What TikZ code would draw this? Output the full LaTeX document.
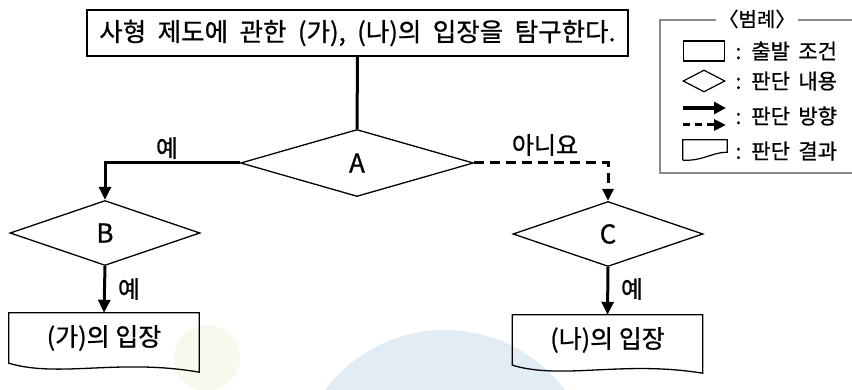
\documentclass[tikz,border=0pt]{standalone}
\usepackage{fontspec}
\setmainfont{Noto Sans CJK KR}[FakeBold=0.8]
\usepackage{xcolor}
\usepackage{tikz}
\usetikzlibrary{shapes.geometric, arrows.meta}
\definecolor{legendgray}{RGB}{140,140,140}
\definecolor{markblue}{RGB}{226,236,244}
\definecolor{markgreen}{RGB}{248,249,236}

\begin{document}
\begin{tikzpicture}[x=1pt, y=-1pt,
  startbox/.style={draw, line width=1.6pt, minimum width=541pt, minimum height=46pt, inner sep=0pt, font={\fontsize{25.5}{28}\selectfont\spaceskip=0.45em\relax}},
  decision/.style={diamond, draw, line width=1.3pt, inner sep=0pt, minimum width=190pt, minimum height=65pt, font=\fontsize{26}{30}\selectfont},
  result/.style={minimum width=190pt, minimum height=50pt, inner sep=0pt, font=\fontsize{25}{28}\selectfont},
  doc/.style={line width=1.3pt},
  flow/.style={line width=3pt, -{Triangle[length=13pt, width=12pt]}},
  noflow/.style={line width=3pt, dash pattern=on 10pt off 6pt, -{Triangle[length=12pt, width=11pt]}},
  answer/.style={font=\fontsize{24}{28}\selectfont},
  legendtext/.style={anchor=west, font={\fontsize{21}{24}\selectfont\spaceskip=0.4em\relax}}]
\useasboundingbox (0,0) rectangle (852,390);

% faint marks behind the chart
\fill[markblue] (445,480) circle (150);
\fill[markgreen] (207,358) circle (33);

% start and decisions
\node[startbox] (start) at (357.5,33) {사형 제도에 관한 (가), (나)의 입장을 탐구한다.};
\node[decision, minimum width=233pt, minimum height=67pt] (a) at (357,163) {A};
\node[decision] (b) at (105,233) {B};
\node[decision] (c) at (608,234) {C};

% results
\node[result] (ra) at (104,338) {(가)의 입장};
\node[result] (rb) at (607.5,340) {(나)의 입장};
\draw[doc] (ra.south west) -- (ra.north west) -- (ra.north east) -- ([yshift=-9pt]ra.south east)
  .. controls ([xshift=-80pt, yshift=5pt]ra.south east) and ([xshift=50pt, yshift=-15pt]ra.south west) .. cycle;
\draw[doc] (rb.south west) -- (rb.north west) -- (rb.north east) -- ([yshift=-8pt]rb.south east)
  .. controls ([xshift=-80pt, yshift=5pt]rb.south east) and ([xshift=50pt, yshift=-15pt]rb.south west) .. cycle;

% connectors
\draw[line width=3pt] (start.south) -- (a.north);
\draw[flow] (a.west) -| (b.north);
\draw[noflow] (a.east) -| (c.north);
\draw[flow] (b.south) -- (ra.north);
\draw[flow] (c.south) -- (rb.north);

% answers
\node[answer] (yesa) at (167,148) {예};
\node[answer] (noa) at (545,145) {아니요};
\node[answer] (yesb) at (129,289) {예};
\node[answer] (yesc) at (632,289) {예};

% legend
\draw[legendgray, line width=1.2pt] (852,20) -- (660,20) -- (660,173) -- (852,173);
\node[fill=white, inner sep=3pt, font=\fontsize{20}{24}\selectfont] (legend) at (757,19) {〈범례〉};
\node[draw, line width=1.2pt, minimum width=41pt, minimum height=20pt, inner sep=0pt] (keybox) at (704,51) {};
\node[draw, diamond, line width=1.2pt, minimum width=42pt, minimum height=22pt, inner sep=0pt] (keydia) at (704,81) {};
\coordinate (keyaw) at (683,108);
\coordinate (keyae) at (726,108);
\coordinate (keybw) at (683,125);
\coordinate (keybe) at (726,125);
\draw[line width=3.5pt, -{Triangle[length=12pt, width=12pt]}] (keyaw) -- (keyae);
\draw[line width=3pt, dash pattern=on 7pt off 5pt, -{Triangle[length=12pt, width=11pt]}] (keybw) -- (keybe);
\node[minimum width=44pt, minimum height=12pt, inner sep=0pt] (keydoc) at (705,146) {};
\draw[line width=1.2pt] ([yshift=-8pt]keydoc.south west) -- (keydoc.north west) -- (keydoc.north east) -- (keydoc.south east)
  .. controls ([xshift=-15pt]keydoc.south east) and ([xshift=20pt, yshift=-9pt]keydoc.south west) .. ([yshift=-8pt]keydoc.south west);
\node[legendtext] (keyt1) at (732,51) {: 출발 조건};
\node[legendtext] (keyt2) at (732,81) {: 판단 내용};
\node[legendtext] (keyt3) at (732,116) {: 판단 방향};
\node[legendtext] (keyt4) at (732,151) {: 판단 결과};
\end{tikzpicture}
\end{document}
